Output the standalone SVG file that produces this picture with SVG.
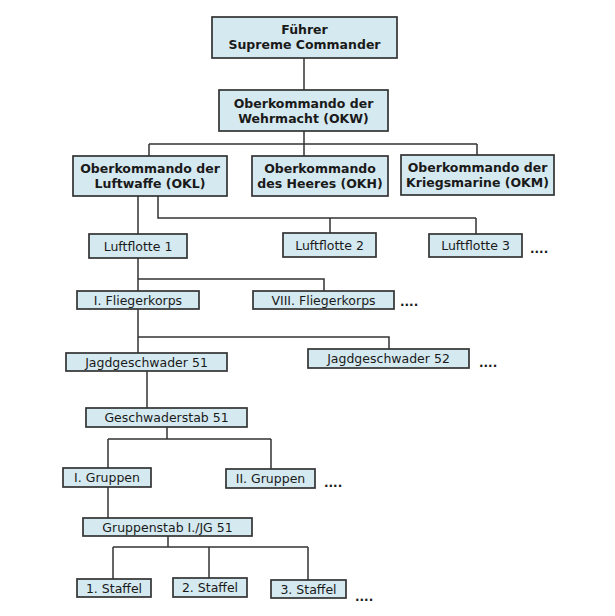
<svg xmlns="http://www.w3.org/2000/svg" width="615" height="616" viewBox="0 0 615 616">
<style>
.box{fill:#d5e9f0;stroke:#333;stroke-width:1.7}
.ln{fill:none;stroke:#333;stroke-width:1.5}
text{font-family:"DejaVu Sans",Verdana,sans-serif;fill:#1a1a1a;text-anchor:middle}
.b{font-weight:bold;font-size:12.5px}
.n{font-size:12.5px}
.d{font-size:12px;font-weight:bold;text-anchor:start}
</style>
<rect width="615" height="616" fill="#fff"/>
<g id="connectors">
<path class="ln" d="M304 58V90M304 131V144M149 144H477M149 144V156M304 144V156M477 144V155"/>
<path class="ln" d="M138 196V234M158 196V218H476M330 218V233M476 218V234"/>
<path class="ln" d="M138 258V292M138 279H324V291"/>
<path class="ln" d="M138 309V353M138 337H389V349"/>
<path class="ln" d="M147 371V408"/>
<path class="ln" d="M167 427V439M108 439H271M108 439V468M271 439V469"/>
<path class="ln" d="M108 487V518"/>
<path class="ln" d="M168 536V547M113 547H308M113 547V579M209 547V578M308 547V580"/>
</g>
<g id="fuehrer"><rect class="box" x="212" y="17" width="185" height="41"/><text class="b" x="304.5" y="34">Führer</text><text class="b" x="304.5" y="49">Supreme Commander</text></g>
<g id="okw"><rect class="box" x="219" y="90" width="169" height="41"/><text class="b" x="303.5" y="108">Oberkommando der</text><text class="b" x="303.5" y="123">Wehrmacht (OKW)</text></g>
<g id="okl"><rect class="box" x="73" y="156" width="154" height="40"/><text class="b" x="150" y="173">Oberkommando der</text><text class="b" x="150" y="188">Luftwaffe (OKL)</text></g>
<g id="okh"><rect class="box" x="252" y="156" width="136" height="40"/><text class="b" x="320" y="173">Oberkommando</text><text class="b" x="320" y="188">des Heeres (OKH)</text></g>
<g id="okm"><rect class="box" x="401" y="155" width="153" height="40"/><text class="b" x="477.5" y="172">Oberkommando der</text><text class="b" x="477.5" y="187">Kriegsmarine (OKM)</text></g>
<g id="lf1"><rect class="box" x="89" y="234" width="98" height="24"/><text class="n" x="138" y="250.5">Luftflotte 1</text></g>
<g id="lf2"><rect class="box" x="283" y="233" width="93" height="24"/><text class="n" x="329.5" y="249.5">Luftflotte 2</text></g>
<g id="lf3"><rect class="box" x="429" y="234" width="93" height="23"/><text class="n" x="475.5" y="250">Luftflotte 3</text></g>
<text class="d" x="530" y="253">....</text>
<g id="fk1"><rect class="box" x="77" y="291" width="122" height="18"/><text class="n" x="138" y="304.5">I. Fliegerkorps</text></g>
<g id="fk8"><rect class="box" x="253" y="291" width="141" height="18"/><text class="n" x="323.5" y="304.5">VIII. Fliegerkorps</text></g>
<text class="d" x="400" y="306">....</text>
<g id="jg51"><rect class="box" x="66" y="353" width="161" height="18"/><text class="n" x="146.5" y="366.5">Jagdgeschwader 51</text></g>
<g id="jg52"><rect class="box" x="308" y="349" width="161" height="19"/><text class="n" x="388.5" y="363">Jagdgeschwader 52</text></g>
<text class="d" x="479" y="367">....</text>
<g id="gstab"><rect class="box" x="86" y="408" width="161" height="19"/><text class="n" x="166.5" y="422">Geschwaderstab 51</text></g>
<g id="gr1"><rect class="box" x="63" y="468" width="88" height="19"/><text class="n" x="107" y="482">I. Gruppen</text></g>
<g id="gr2"><rect class="box" x="226" y="469" width="89" height="19"/><text class="n" x="270.5" y="483">II. Gruppen</text></g>
<text class="d" x="324" y="487">....</text>
<g id="grstab"><rect class="box" x="83" y="518" width="169" height="18"/><text class="n" x="167.5" y="531.5">Gruppenstab I./JG 51</text></g>
<g id="st1"><rect class="box" x="77" y="579" width="74" height="18"/><text class="n" x="114" y="592.5">1. Staffel</text></g>
<g id="st2"><rect class="box" x="173" y="578" width="74" height="19"/><text class="n" x="210" y="592">2. Staffel</text></g>
<g id="st3"><rect class="box" x="271" y="580" width="75" height="18"/><text class="n" x="308.5" y="593.5">3. Staffel</text></g>
<text class="d" x="355" y="601">....</text>
</svg>
